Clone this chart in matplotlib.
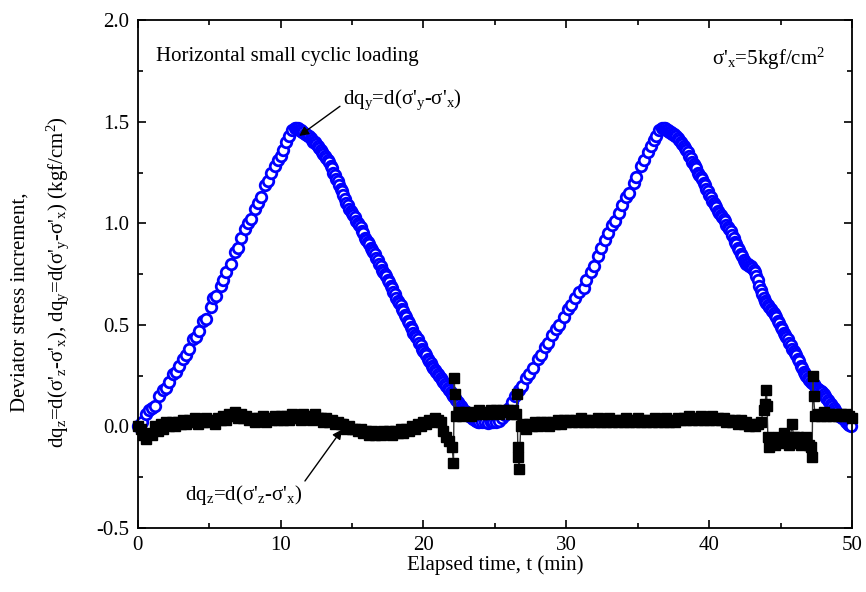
import matplotlib
matplotlib.use("Agg")
from matplotlib import pyplot as plt
from matplotlib.ticker import MultipleLocator

plt.rcParams["font.family"] = "Liberation Serif"
plt.rcParams["mathtext.fontset"] = "custom"
plt.rcParams["mathtext.rm"] = "Liberation Serif"
plt.rcParams["mathtext.it"] = "Liberation Serif"
plt.rcParams["mathtext.default"] = "regular"
plt.rcParams["axes.unicode_minus"] = False

fontsize_txt = 15

# dq_y series (blue open circles)
t_y = [0.0, 0.3, 0.6, 0.8, 1.0, 1.2, 1.5, 1.8, 2.0, 2.2, 2.5, 2.7, 2.9, 3.2, 3.4, 3.6,
       3.9, 4.1, 4.3, 4.6, 4.8, 5.1, 5.3, 5.5, 5.8, 6.0, 6.2, 6.5, 6.8, 7.0, 7.2, 7.5,
       7.7, 7.9, 8.2, 8.4, 8.6, 8.9, 9.1, 9.3, 9.6, 9.8, 10.0, 10.2, 10.4, 10.6, 10.8, 11.0,
       11.1, 11.2, 11.3, 11.4, 11.5, 11.6, 11.7, 11.8, 11.9, 12.0, 12.1, 12.2, 12.3, 12.4,
       12.5, 12.6, 12.7, 12.8, 12.9, 13.0, 13.1, 13.2, 13.3, 13.4, 13.5, 13.6, 13.7, 13.8,
       13.9, 14.0, 14.1, 14.2, 14.3, 14.4, 14.5, 14.6, 14.7, 14.8, 14.9, 15.0, 15.1, 15.2,
       15.3, 15.4, 15.5, 15.6, 15.7, 15.8, 15.9, 16.0, 16.1, 16.2, 16.3, 16.4, 16.5, 16.6,
       16.7, 16.8, 16.9, 17.0, 17.1, 17.2, 17.3, 17.4, 17.5, 17.6, 17.7, 17.8, 17.9, 18.0,
       18.1, 18.2, 18.3, 18.4, 18.5, 18.6, 18.7, 18.8, 18.9, 19.0, 19.1, 19.2, 19.3, 19.4,
       19.5, 19.6, 19.7, 19.8, 19.9, 20.0, 20.1, 20.2, 20.3, 20.4, 20.5, 20.6, 20.7, 20.8,
       20.9, 21.0, 21.1, 21.2, 21.3, 21.4, 21.5, 21.6, 21.7, 21.8, 21.9, 22.0, 22.1, 22.2,
       22.3, 22.4, 22.5, 22.6, 22.7, 22.8, 22.9, 23.0, 23.1, 23.2, 23.3, 23.4, 23.5, 23.6,
       23.7, 23.8, 23.9, 24.1, 24.3, 24.5, 24.7, 24.9, 25.1, 25.3, 25.5, 25.7, 25.9, 26.0,
       26.2, 26.4, 26.7, 26.9, 27.2, 27.4, 27.7, 28.0, 28.2, 28.5, 28.7, 29.0,
       29.3, 29.5, 29.8, 30.1, 30.3, 30.6, 30.9, 31.2, 31.4, 31.7, 31.9, 32.2, 32.4, 32.7,
       32.9, 33.2, 33.4, 33.7, 33.9, 34.2, 34.4, 34.7, 34.9, 35.2, 35.4, 35.7, 35.9, 36.1,
       36.3, 36.5, 36.7, 36.8, 36.9, 37.0, 37.1, 37.2, 37.3, 37.4, 37.5, 37.6, 37.7, 37.8,
       37.9, 38.0, 38.1, 38.2, 38.3, 38.4, 38.5, 38.6, 38.7, 38.8, 38.9, 39.0, 39.1, 39.2,
       39.3, 39.4, 39.5, 39.6, 39.7, 39.8, 39.9, 40.0, 40.1, 40.2, 40.3, 40.4, 40.5, 40.6,
       40.7, 40.8, 40.9, 41.0, 41.1, 41.2, 41.3, 41.4, 41.5, 41.6, 41.7, 41.8, 41.9, 42.0,
       42.1, 42.2, 42.3, 42.4, 42.5, 42.6, 42.7, 42.8, 42.9, 43.0, 43.1, 43.2, 43.3, 43.4,
       43.5, 43.6, 43.7, 43.8, 43.9, 44.0, 44.1, 44.2, 44.3, 44.4, 44.5, 44.6, 44.7, 44.8,
       44.9, 45.0, 45.1, 45.2, 45.3, 45.4, 45.5, 45.6, 45.7, 45.8, 45.9, 46.0, 46.1, 46.2,
       46.3, 46.4, 46.5, 46.6, 46.7, 46.8, 46.9, 47.0, 47.1, 47.2, 47.3, 47.4, 47.5, 47.6,
       47.7, 47.8, 47.9, 48.0, 48.1, 48.2, 48.3, 48.4, 48.5, 48.6, 48.7, 48.8, 48.9, 49.0,
       49.1, 49.2, 49.3, 49.4, 49.5, 49.6, 49.7, 49.8, 49.9]
dq_y = [0.00, 0.02, 0.06, 0.08, 0.09, 0.10, 0.15, 0.18, 0.19, 0.22, 0.26, 0.27, 0.30, 0.33, 0.35, 0.38,
        0.43, 0.44, 0.47, 0.52, 0.53, 0.59, 0.63, 0.64, 0.69, 0.72, 0.76, 0.80, 0.86, 0.88, 0.93, 0.97,
        1.00, 1.02, 1.07, 1.10, 1.13, 1.19, 1.21, 1.25, 1.28, 1.31, 1.33, 1.36, 1.40, 1.43, 1.46, 1.47,
        1.47, 1.47, 1.46, 1.46, 1.45, 1.45, 1.44, 1.44, 1.43, 1.43, 1.42, 1.41, 1.40, 1.40,
        1.39, 1.38, 1.37, 1.36, 1.35, 1.34, 1.33, 1.32, 1.31, 1.30, 1.28, 1.27, 1.25, 1.24,
        1.22, 1.21, 1.19, 1.17, 1.16, 1.14, 1.12, 1.10, 1.09, 1.07, 1.06, 1.05, 1.04, 1.03,
        1.01, 1.00, 0.99, 0.98, 0.96, 0.95, 0.93, 0.92, 0.91, 0.90, 0.88, 0.87, 0.86, 0.85,
        0.83, 0.82, 0.80, 0.79, 0.77, 0.76, 0.75, 0.74, 0.72, 0.71, 0.69, 0.68, 0.66, 0.65,
        0.63, 0.62, 0.61, 0.60, 0.58, 0.57, 0.55, 0.54, 0.52, 0.51, 0.49, 0.48, 0.46, 0.45,
        0.44, 0.43, 0.41, 0.40, 0.38, 0.37, 0.36, 0.35, 0.33, 0.32, 0.31, 0.30, 0.29, 0.28,
        0.27, 0.26, 0.25, 0.24, 0.23, 0.22, 0.21, 0.20, 0.19, 0.18, 0.17, 0.16, 0.15, 0.14,
        0.13, 0.12, 0.11, 0.10, 0.09, 0.08, 0.075, 0.07, 0.06, 0.05, 0.045, 0.04, 0.035, 0.03,
        0.025, 0.02, 0.02, 0.02, 0.02, 0.015, 0.02, 0.02, 0.02, 0.025, 0.04, 0.055, 0.07, 0.09,
        0.12, 0.15, 0.18, 0.20, 0.24, 0.26, 0.29, 0.33, 0.35, 0.39, 0.41, 0.45,
        0.48, 0.50, 0.54, 0.58, 0.60, 0.63, 0.66, 0.68, 0.72, 0.76, 0.79, 0.84, 0.88, 0.92,
        0.95, 0.99, 1.01, 1.05, 1.09, 1.13, 1.15, 1.20, 1.23, 1.28, 1.31, 1.35, 1.38, 1.41,
        1.43, 1.46, 1.47, 1.47, 1.47, 1.46, 1.46, 1.45, 1.45, 1.44, 1.44, 1.43, 1.43, 1.42,
        1.41, 1.40, 1.39, 1.38, 1.37, 1.36, 1.35, 1.33, 1.32, 1.30, 1.29, 1.28, 1.27, 1.25,
        1.24, 1.23, 1.22, 1.20, 1.19, 1.17, 1.16, 1.14, 1.13, 1.11, 1.10, 1.09, 1.08, 1.06,
        1.05, 1.04, 1.03, 1.02, 1.01, 0.99, 0.98, 0.97, 0.96, 0.94, 0.93, 0.91, 0.90, 0.88,
        0.87, 0.85, 0.84, 0.82, 0.81, 0.80, 0.80, 0.79, 0.79, 0.78, 0.77, 0.76, 0.74, 0.72,
        0.69, 0.67, 0.65, 0.63, 0.62, 0.61, 0.60, 0.59, 0.58, 0.57, 0.56, 0.55, 0.54, 0.52,
        0.51, 0.49, 0.48, 0.46, 0.45, 0.44, 0.43, 0.41, 0.40, 0.38, 0.37, 0.36, 0.35, 0.33,
        0.32, 0.30, 0.29, 0.27, 0.26, 0.25, 0.24, 0.23, 0.22, 0.215, 0.21, 0.20, 0.19, 0.185,
        0.18, 0.175, 0.17, 0.16, 0.15, 0.14, 0.13, 0.12, 0.11, 0.10, 0.09, 0.08, 0.07, 0.06,
        0.05, 0.045, 0.04, 0.035, 0.03, 0.02, 0.01, 0.005, 0.00]

# dq_z series (black squares)
t_z = [0.0, 0.2, 0.4, 0.6, 0.8, 1.0, 1.2, 1.4, 1.6, 1.8, 2.0, 2.2, 2.4, 2.6, 2.8, 3.0,
       3.2, 3.4, 3.6, 3.8, 4.0, 4.2, 4.4, 4.6, 4.8, 5.0, 5.2, 5.4, 5.6, 5.8, 6.0, 6.2,
       6.4, 6.6, 6.8, 7.0, 7.2, 7.4, 7.6, 7.8, 8.0, 8.2, 8.4, 8.6, 8.8, 9.0, 9.2, 9.4,
       9.6, 9.8, 10.0, 10.2, 10.4, 10.6, 10.8, 11.0, 11.2, 11.4, 11.6, 11.8, 12.0, 12.2,
       12.4, 12.6, 12.8, 13.0, 13.2, 13.4, 13.6, 13.8, 14.0, 14.2, 14.4, 14.6, 14.8, 15.0,
       15.2, 15.4, 15.6, 15.8, 16.0, 16.2, 16.4, 16.6, 16.8, 17.0, 17.2, 17.4, 17.6, 17.8,
       18.0, 18.2, 18.4, 18.6, 18.8, 19.0, 19.2, 19.4, 19.6, 19.8, 20.0, 20.2, 20.4, 20.6,
       20.8, 21.0, 21.2, 21.4, 21.6, 21.8, 22.0, 22.1, 22.15, 22.2, 22.3, 22.5, 22.7, 22.9,
       23.1, 23.3, 23.5, 23.7, 23.9, 24.1, 24.3, 24.5, 24.7, 24.9, 25.1, 25.3, 25.5, 25.7,
       25.9, 26.1, 26.3, 26.5, 26.55, 26.6, 26.65, 26.7, 26.8, 27.0, 27.2, 27.4, 27.6, 27.8,
       28.0, 28.2, 28.4, 28.6, 28.8, 29.0, 29.2, 29.4, 29.6, 29.8, 30.0, 30.2, 30.4, 30.6,
       30.8, 31.0, 31.2, 31.4, 31.6, 31.8, 32.0, 32.2, 32.4, 32.6, 32.8, 33.0, 33.2, 33.4,
       33.6, 33.8, 34.0, 34.2, 34.4, 34.6, 34.8, 35.0, 35.2, 35.4, 35.6, 35.8, 36.0, 36.2,
       36.4, 36.6, 36.8, 37.0, 37.2, 37.4, 37.6, 37.8, 38.0, 38.2, 38.4, 38.6, 38.8, 39.0,
       39.2, 39.4, 39.6, 39.8, 40.0, 40.2, 40.4, 40.6, 40.8, 41.0, 41.2, 41.4, 41.6, 41.8,
       42.0, 42.2, 42.4, 42.6, 42.8, 43.0, 43.2, 43.4, 43.6, 43.8, 43.9, 44.0, 44.05, 44.1,
       44.2, 44.4, 44.6, 44.8, 45.0, 45.2, 45.4, 45.6, 45.8, 45.9, 46.0, 46.2, 46.4, 46.6,
       46.8, 47.0, 47.1, 47.2, 47.25, 47.3, 47.4, 47.6, 47.8, 48.0, 48.2, 48.4, 48.6, 48.8,
       49.0, 49.2, 49.4, 49.6, 49.8, 50.0]
dq_z = [0.00, -0.01, -0.04, -0.06, -0.03, -0.04, 0.00, -0.02, 0.01, -0.01, 0.02, 0.00, 0.02, 0.00, 0.02, 0.01,
        0.03, 0.01, 0.03, 0.02, 0.04, 0.01, 0.03, 0.02, 0.04, 0.02, 0.03, 0.01, 0.04, 0.03, 0.05, 0.03,
        0.06, 0.05, 0.07, 0.04, 0.06, 0.04, 0.05, 0.03, 0.04, 0.02, 0.04, 0.03, 0.05, 0.02, 0.04, 0.03,
        0.05, 0.03, 0.05, 0.03, 0.05, 0.03, 0.06, 0.04, 0.05, 0.03, 0.06, 0.04, 0.05, 0.03,
        0.06, 0.04, 0.04, 0.02, 0.04, 0.02, 0.03, 0.01, 0.02, 0.01, 0.01, -0.01, 0.00, -0.01,
        -0.01, -0.02, -0.01, -0.03, -0.02, -0.04, -0.02, -0.04, -0.03, -0.04, -0.02, -0.03, -0.02, -0.04,
        -0.02, -0.03, -0.01, -0.03, -0.01, -0.02, 0.00, -0.01, 0.01, 0.00, 0.02, 0.01, 0.03, 0.02,
        0.04, 0.03, 0.02, -0.02, -0.05, -0.07, -0.10, -0.18, 0.24, 0.16, 0.05, 0.07, 0.05, 0.07,
        0.06, 0.05, 0.07, 0.06, 0.08, 0.06, 0.07, 0.06, 0.08, 0.07, 0.08, 0.06, 0.08, 0.07,
        0.08, 0.06, 0.08, 0.06, 0.16, -0.10, -0.15, -0.21, 0.00, 0.01, -0.01, 0.01, 0.00, 0.02,
        0.00, 0.02, 0.01, 0.02, 0.00, 0.02, 0.01, 0.03, 0.01, 0.03, 0.02, 0.03, 0.02, 0.03,
        0.02, 0.04, 0.02, 0.03, 0.02, 0.03, 0.02, 0.04, 0.02, 0.03, 0.02, 0.04, 0.02, 0.03,
        0.02, 0.03, 0.02, 0.04, 0.02, 0.03, 0.02, 0.04, 0.02, 0.03, 0.02, 0.03, 0.02, 0.04,
        0.02, 0.03, 0.02, 0.04, 0.02, 0.03, 0.02, 0.04, 0.03, 0.04, 0.03, 0.05, 0.03, 0.04,
        0.03, 0.05, 0.03, 0.04, 0.03, 0.05, 0.03, 0.04, 0.03, 0.04, 0.02, 0.03, 0.02, 0.03,
        0.01, 0.03, 0.01, 0.02, 0.00, 0.01, 0.00, 0.01, 0.02, 0.08, 0.11, 0.18, 0.10, -0.05,
        -0.10, -0.06, -0.09, -0.05, -0.08, -0.03, -0.06, -0.09, 0.01, -0.05, -0.08, -0.05, -0.09, -0.06,
        -0.05, -0.09, -0.10, -0.15, 0.25, 0.15, 0.05, 0.06, 0.05, 0.07, 0.05, 0.06, 0.05, 0.06,
        0.05, 0.06, 0.05, 0.06, 0.05, 0.04]

fig = plt.figure(figsize=(8.66, 5.92), dpi=100)
ax = fig.add_axes([0.159, 0.108, 0.825, 0.858])

ax.plot(t_y, dq_y, color="#0000ff", lw=0.6, marker="o", markersize=7.6,
        markerfacecolor="white", markeredgecolor="#0000ff", markeredgewidth=2.0, clip_on=False)
ax.plot(t_z, dq_z, color="#333333", lw=1.0, marker="s", markersize=6.5,
        markerfacecolor="black", markeredgecolor="black", clip_on=False)

ax.set_xlim(0, 50)
ax.set_ylim(-0.5, 2.0)
ax.xaxis.set_major_locator(MultipleLocator(10))
ax.xaxis.set_minor_locator(MultipleLocator(5))
ax.yaxis.set_major_locator(MultipleLocator(0.5))
ax.yaxis.set_minor_locator(MultipleLocator(0.25))
ax.yaxis.set_major_formatter(matplotlib.ticker.FormatStrFormatter("%.1f"))
ax.tick_params(which="both", direction="in", top=True, right=True, width=1.2, labelsize=fontsize_txt, pad=6)
ax.tick_params(which="major", length=6)
ax.tick_params(which="minor", length=3.5)
for s in ax.spines.values():
    s.set_linewidth(1.3)

ax.set_xlabel("Elapsed time, t (min)", fontsize=fontsize_txt, labelpad=0)
fig.text(0.023, 0.49, "Deviator stress increment,", rotation=90, ha="center", va="center", fontsize=fontsize_txt)
fig.text(0.066, 0.524, "dq$_z$=d(σ'$_z$-σ'$_x$), dq$_y$=d(σ'$_y$-σ'$_x$) (kgf/cm$^2$)",
         rotation=90, ha="center", va="center", fontsize=fontsize_txt)

ax.text(1.3, 1.82, "Horizontal small cyclic loading", fontsize=fontsize_txt, va="center")
ax.text(40.2, 1.81, "σ'$_x$=5kgf/cm$^2$", fontsize=fontsize_txt, va="center")

ax.annotate("dq$_y$=d(σ'$_y$-σ'$_x$)", xy=(11.3, 1.43), xytext=(14.35, 1.61),
            fontsize=fontsize_txt, va="center",
            arrowprops=dict(arrowstyle="-|>", color="black", lw=1, mutation_scale=14, shrinkA=0, shrinkB=0,
                            relpos=(0, 0.3)))
ax.annotate("dq$_z$=d(σ'$_z$-σ'$_x$)", xy=(14.3, -0.015), xytext=(3.3, -0.335),
            fontsize=fontsize_txt, va="center",
            arrowprops=dict(arrowstyle="-|>", color="black", lw=1, mutation_scale=14, shrinkA=0, shrinkB=0,
                            relpos=(0.97, 0.7)))

plt.savefig("out.png", dpi=100)
